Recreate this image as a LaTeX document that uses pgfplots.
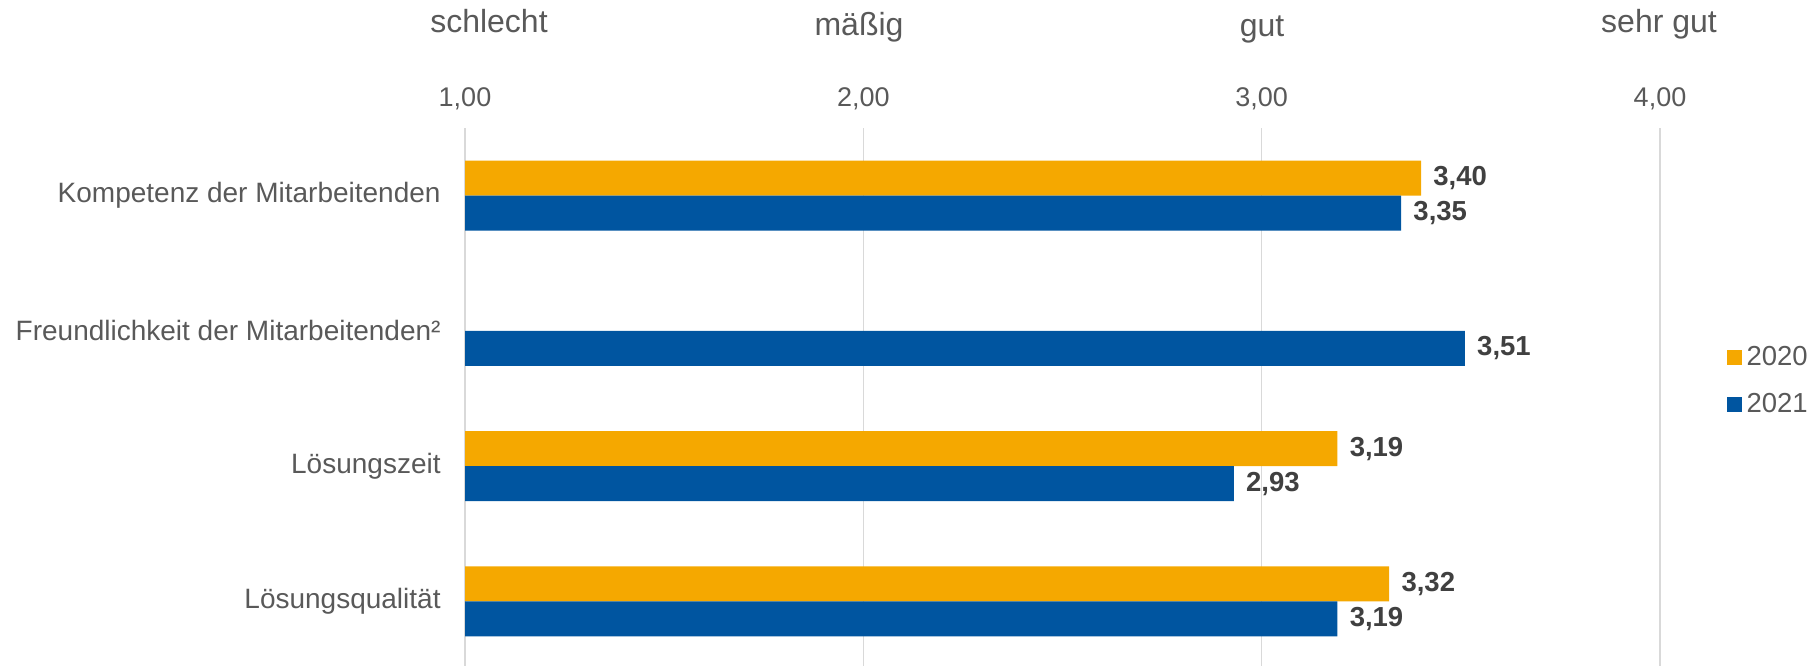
\documentclass[border=0pt]{standalone}
\usepackage{fontspec}
\setmainfont{Liberation Sans}
\usepackage{pgfplots}
\pgfplotsset{compat=1.18}
\definecolor{orng}{RGB}{245,168,0}
\definecolor{blu}{RGB}{0,85,160}
\definecolor{txt}{RGB}{89,89,89}
\definecolor{lbl}{RGB}{64,64,64}
\definecolor{grd}{RGB}{217,217,217}
\begin{document}
\begin{tikzpicture}
\begin{axis}[
  at={(232.5bp,-334.5bp)}, anchor=south west,
  scale only axis, width=597.5bp, height=270.5bp,
  xmin=1, xmax=4, ymin=-0.5, ymax=3.5, y dir=reverse,
  xtick={1,2,3,4}, ytick={0,1,2,3},
  yticklabels={Kompetenz der Mitarbeitenden, Freundlichkeit der Mitarbeitenden², Lösungszeit, Lösungsqualität},
  xticklabel pos=upper,
  xmajorgrids, major grid style={grd, line width=0.75bp},
  axis line style={draw=none}, major tick length=0pt,
  /pgf/number format/use comma,
  /pgf/number format/fixed,
  /pgf/number format/fixed zerofill,
  /pgf/number format/precision=2,
  /pgf/number format/assume math mode=true,
  xticklabel style={font=\fontsize{13.5bp}{16bp}\selectfont, text=txt, anchor=base, inner sep=0pt, yshift=11bp},
  yticklabel style={font=\fontsize{14bp}{17bp}\selectfont, text=txt, anchor=east, inner sep=0pt, xshift=-12bp},
  xbar, bar width=0.2587,
  point meta=x,
  nodes near coords={\pgfmathprintnumber[assume math mode=true,use comma,fixed,fixed zerofill,precision=2]{\pgfplotspointmeta}},
  every node near coord/.append style={font=\bfseries\fontsize{13.75bp}{16bp}\selectfont, text=lbl, anchor=west, inner sep=0pt, xshift=6bp},
  legend style={at={(1.0557,0.532)}, anchor=west, draw=none, fill=none, inner sep=0pt, outer sep=0pt,
    font=\fontsize{13.75bp}{16bp}\selectfont, text=txt, row sep=16bp, column sep=2.5bp,
    nodes={inner sep=0pt, text height=7.5bp, text depth=0pt}},
  legend cell align=left,
  legend image code/.code={\fill[#1] (0bp,-3.75bp) rectangle (7.5bp,3.75bp);},
]
\addplot[fill=orng, draw=none, bar shift=-0.1294] coordinates {(3.40,0) (3.19,2) (3.32,3)};
\addplot[fill=blu, draw=none, bar shift=0.1294] coordinates {(3.35,0) (3.51,1) (2.93,2) (3.19,3)};
\legend{2020,2021}
\end{axis}
\begin{scope}[every node/.style={font=\fontsize{16bp}{19bp}\selectfont, text=txt, anchor=base, inner sep=0pt}]
\node at (244.5bp,-16bp) {schlecht};
\node at (429.5bp,-17.5bp) {mäßig};
\node at (631bp,-18bp) {gut};
\node at (829.5bp,-16bp) {sehr gut};
\end{scope}
\pgfresetboundingbox
\useasboundingbox (0,0) rectangle (909.5bp,-333bp);
\end{tikzpicture}
\end{document}
